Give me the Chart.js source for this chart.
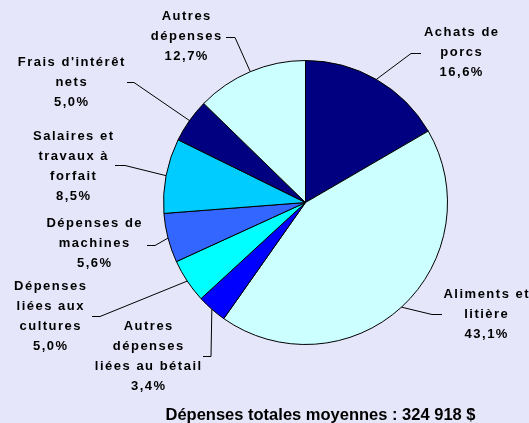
<!DOCTYPE html>
<html>
<head>
<meta charset="utf-8">
<script src="https://cdn.jsdelivr.net/npm/chart.js@4.4.1/dist/chart.umd.min.js"></script>
<style>
html,body{margin:0;padding:0;background:#E6E6FA;}
#wrap{width:529px;height:423px;position:relative;}
</style>
</head>
<body>
<div id="wrap"><canvas id="c" width="529" height="423"></canvas></div>
<script>
// ---- Data ----
const categories = [
  "Achats de porcs",
  "Aliments et litière",
  "Autres dépenses liées au bétail",
  "Dépenses liées aux cultures",
  "Dépenses de machines",
  "Salaires et travaux à forfait",
  "Frais d'intérêt nets",
  "Autres dépenses"
];
const shares = [16.6, 43.1, 3.4, 5.0, 5.6, 8.5, 5.0, 12.7];
const pctLabels = ["16,6%", "43,1%", "3,4%", "5,0%", "5,6%", "8,5%", "5,0%", "12,7%"];
const labelLines = [
  ["Achats de", "porcs"],
  ["Aliments et", "litière"],
  ["Autres", "dépenses", "liées au bétail"],
  ["Dépenses", "liées aux", "cultures"],
  ["Dépenses de", "machines"],
  ["Salaires et", "travaux à", "forfait"],
  ["Frais d'intérêt", "nets"],
  ["Autres", "dépenses"]
];
const titleText = "Dépenses totales moyennes : 324 918 $";

// ---- Styles / layout (not data) ----
const sliceColors = ["#000080", "#CCFFFF", "#0000FF", "#00FFFF", "#3366FF", "#00CCFF", "#000080", "#CCFFFF"];
// label block: center x, first line center y; leader: label end point, elbow point
const labelLayout = [
  {x: 461, y: 32,  p0: [421, 53],  p1: [411, 53]},
  {x: 486, y: 294, p0: [442, 314], p1: [432, 314]},
  {x: 148, y: 326, p0: [203, 356], p1: [211, 356]},
  {x: 50,  y: 286, p0: [92, 316],  p1: [100, 316]},
  {x: 94,  y: 223, p0: [147, 245], p1: [155, 245]},
  {x: 73,  y: 136, p0: [115, 165], p1: [125, 165]},
  {x: 71,  y: 62,  p0: [127, 82],  p1: [134, 82]},
  {x: 186, y: 16,  p0: [226, 37],  p1: [235, 37]}
];
const lineH = 20;

const labelPlugin = {
  id: 'outLabels',
  afterDatasetsDraw(chart) {
    const ctx = chart.ctx;
    const meta = chart.getDatasetMeta(0);
    ctx.save();
    // leader lines
    ctx.strokeStyle = '#000';
    ctx.lineWidth = 1;
    meta.data.forEach((arc, i) => {
      const L = labelLayout[i];
      const mid = (arc.startAngle + arc.endAngle) / 2;
      const ex = arc.x + Math.cos(mid) * arc.outerRadius;
      const ey = arc.y + Math.sin(mid) * arc.outerRadius;
      ctx.beginPath();
      ctx.moveTo(L.p0[0], L.p0[1] + 0.5);
      ctx.lineTo(L.p1[0], L.p1[1] + 0.5);
      ctx.lineTo(ex, ey);
      ctx.stroke();
    });
    // texts
    ctx.fillStyle = '#000';
    ctx.font = 'bold 13px "Liberation Sans", Arial, sans-serif';
    ctx.textAlign = 'center';
    ctx.textBaseline = 'middle';
    try { ctx.letterSpacing = '1.5px'; } catch (e) {}
    meta.data.forEach((arc, i) => {
      const L = labelLayout[i];
      const lines = labelLines[i].concat([pctLabels[i]]);
      lines.forEach((t, k) => {
        ctx.fillText(t, L.x + 0.75, L.y + k * lineH);
      });
    });
    try { ctx.letterSpacing = '0px'; } catch (e) {}
    ctx.font = 'bold 16.5px "Liberation Sans", Arial, sans-serif';
    ctx.fillText(titleText, 320.5, 415);
    ctx.restore();
  }
};

new Chart(document.getElementById('c'), {
  type: 'pie',
  data: {
    labels: categories,
    datasets: [{
      data: shares,
      backgroundColor: sliceColors,
      borderColor: '#000',
      borderWidth: 1
    }]
  },
  options: {
    responsive: false,
    animation: false,
    layout: {padding: {left: 163, right: 81, top: 60, bottom: 78}},
    plugins: {legend: {display: false}, tooltip: {enabled: false}, title: {display: false}}
  },
  plugins: [labelPlugin]
});
</script>
</body>
</html>
